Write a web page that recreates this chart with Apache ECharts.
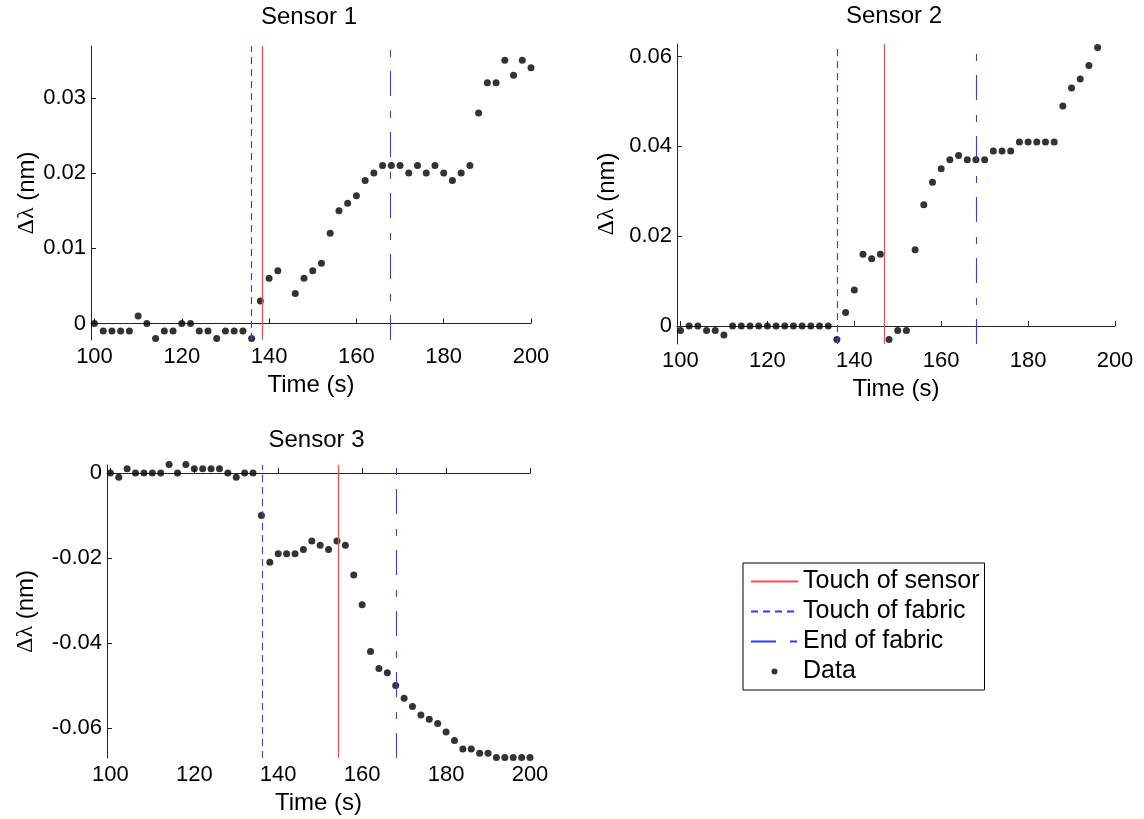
<!DOCTYPE html>
<html>
<head>
<meta charset="utf-8">
<script src="https://cdn.jsdelivr.net/npm/echarts@6/dist/echarts.min.js"></script>
<style>
  html, body { margin: 0; padding: 0; background: #fff; }
  #chart { width: 1144px; height: 819px; }
</style>
</head>
<body>
<div id="chart"></div>
<script>
// time stamps (s)
const time = [100, 102, 104, 106, 108, 110, 112, 114, 116, 118, 120, 122, 124, 126, 128, 130, 132, 134, 136, 138,
    140, 142, 144, 146, 148, 150, 152, 154, 156, 158, 160, 162, 164, 166, 168, 170, 172, 174, 176, 178,
    180, 182, 184, 186, 188, 190, 192, 194, 196, 198, 200];

// delta lambda (nm), null = no sample
const sensor1 = [0, -0.001, -0.001, -0.001, -0.001, 0.001, 0, -0.002, -0.001, -0.001, 0, 0, -0.001, -0.001, -0.002, -0.001, -0.001, -0.001, -0.002, 0.003,
    0.006, 0.007, null, 0.004, 0.006, 0.007, 0.008, 0.012, 0.015, 0.016, 0.017, 0.019, 0.020, 0.021, 0.021, 0.021, 0.020, 0.021, 0.020, 0.021,
    0.020, 0.019, 0.020, 0.021, 0.028, 0.032, 0.032, 0.035, 0.033, 0.035, 0.034];
const sensor2 = [-0.001, 0, 0, -0.001, -0.001, -0.002, 0, 0, 0, 0, 0, 0, 0, 0, 0, 0, 0, 0, -0.003, 0.003,
    0.008, 0.016, 0.015, 0.016, -0.003, -0.001, -0.001, 0.017, 0.027, 0.032, 0.035, 0.037, 0.038, 0.037, 0.037, 0.037, 0.039, 0.039, 0.039, 0.041,
    0.041, 0.041, 0.041, 0.041, 0.049, 0.053, 0.055, 0.058, 0.062, null, null];
const sensor3 = [0, -0.001, 0.001, 0, 0, 0, 0, 0.002, 0, 0.002, 0.001, 0.001, 0.001, 0.001, 0, -0.001, 0, 0, -0.010, -0.021,
    -0.019, -0.019, -0.019, -0.018, -0.016, -0.017, -0.018, -0.016, -0.017, -0.024, -0.031, -0.042, -0.046, -0.047, -0.050, -0.053, -0.055, -0.057, -0.058, -0.059,
    -0.061, -0.063, -0.065, -0.065, -0.066, -0.066, -0.067, -0.067, -0.067, -0.067, -0.067];

// event times per sensor (s)
const touchSensor = [138.4, 146.8, 154.3];
const touchFabric = [136, 136, 136.1];
const endFabric = [167.8, 168, 168.2];

const titles = ['Sensor 1', 'Sensor 2', 'Sensor 3'];
const xTicks = [100, 120, 140, 160, 180, 200];
const yTicks = [
    [0, 0.01, 0.02, 0.03],
    [0, 0.02, 0.04, 0.06],
    [-0.06, -0.04, -0.02, 0]
];
const yRange = [[-0.0022, 0.0369], [-0.004, 0.0628], [-0.0671, 0.0019]];

const font = 'Arial, "Liberation Sans", sans-serif';
const grids = [
    {left: 91, top: 46, width: 440, height: 294},
    {left: 677, top: 44, width: 438, height: 300},
    {left: 107, top: 465, width: 423, height: 293}
];
const titleTop = [5, 4, 428];
const yNameGap = [52, 58, 69];

const red = '#ff4a4a';
const blue = '#2a3cff';
const dashed = [7, 5];
const dashDot = [25, 14, 7, 15];

let chart = echarts.init(document.getElementById('chart'));

let xAxis = [], yAxis = [], series = [], title = [];
[sensor1, sensor2, sensor3].forEach(function (vals, i) {
    let g = grids[i];
    title.push({
        text: titles[i],
        left: g.left + g.width / 2 - 2,
        top: titleTop[i],
        padding: 0,
        textAlign: 'center',
        textStyle: {fontFamily: font, fontSize: 24, fontWeight: 'normal', color: '#000'}
    });
    xAxis.push({
        type: 'value', gridIndex: i, min: 99.2, max: 200,
        name: 'Time (s)', nameLocation: 'middle', nameGap: 33,
        nameTextStyle: {fontFamily: font, fontSize: 24, color: '#000'},
        axisLine: {lineStyle: {color: '#222'}},
        axisTick: {inside: true, length: 5, customValues: xTicks, lineStyle: {color: '#222'}},
        axisLabel: {customValues: xTicks, fontFamily: font, fontSize: 22, color: '#000', margin: 6},
        splitLine: {show: false}
    });
    yAxis.push({
        type: 'value', gridIndex: i, min: yRange[i][0], max: yRange[i][1],
        name: '{g|Δλ} (nm)', nameLocation: 'middle', nameGap: yNameGap[i],
        nameTextStyle: {
            fontFamily: font, fontSize: 24, color: '#000',
            rich: {g: {fontFamily: '"Liberation Serif", "DejaVu Serif", serif', fontSize: 24, color: '#000'}}
        },
        axisLine: {show: true, lineStyle: {color: '#222'}},
        axisTick: {show: true, inside: true, length: 5, customValues: yTicks[i], lineStyle: {color: '#222'}},
        axisLabel: {customValues: yTicks[i], fontFamily: font, fontSize: 22, color: '#000', margin: 5},
        splitLine: {show: false}
    });
    let pts = [];
    time.forEach(function (t, k) {
        if (vals[k] !== null) pts.push([t, vals[k]]);
    });
    let markOf = function (t, color, type, w) {
        return {
            symbol: ['none', 'none'], silent: true, animation: false,
            label: {show: false},
            lineStyle: {color: color, type: type, width: w},
            emphasis: {disabled: true},
            data: [{xAxis: t}]
        };
    };
    series.push({
        name: 'Touch of sensor', type: 'line', xAxisIndex: i, yAxisIndex: i, data: [],
        symbol: 'none', lineStyle: {color: red, width: 1.3}, itemStyle: {color: red},
        markLine: markOf(touchSensor[i], red, 'solid', 1.3)
    });
    series.push({
        name: 'Touch of fabric', type: 'line', xAxisIndex: i, yAxisIndex: i, data: [],
        symbol: 'none', lineStyle: {color: blue, width: 1.1, type: dashed}, itemStyle: {color: blue},
        markLine: markOf(touchFabric[i], blue, dashed, 1.1)
    });
    series.push({
        name: 'End of fabric', type: 'line', xAxisIndex: i, yAxisIndex: i, data: [],
        symbol: 'none', lineStyle: {color: blue, width: 1.1, type: dashDot}, itemStyle: {color: blue},
        markLine: markOf(endFabric[i], blue, dashDot, 1.1)
    });
    series.push({
        name: 'Data', type: 'scatter', xAxisIndex: i, yAxisIndex: i, data: pts,
        symbol: 'circle', symbolSize: 7, clip: false, itemStyle: {color: '#000'}
    });
});

chart.setOption({
    animation: false,
    title: title,
    grid: grids,
    xAxis: xAxis,
    yAxis: yAxis,
    legend: {
        orient: 'vertical', left: 743, top: 563,
        itemWidth: 47, itemHeight: 6, itemGap: 5,
        padding: [6, 5, 6, 7],
        borderColor: '#000', borderWidth: 1,
        textStyle: {fontFamily: font, fontSize: 25, color: '#000'},
        data: [
            {name: 'Touch of sensor', itemStyle: {opacity: 0}},
            {name: 'Touch of fabric', itemStyle: {opacity: 0}},
            {name: 'End of fabric', itemStyle: {opacity: 0}},
            {name: 'Data'}
        ]
    },
    series: series
});
</script>
</body>
</html>
